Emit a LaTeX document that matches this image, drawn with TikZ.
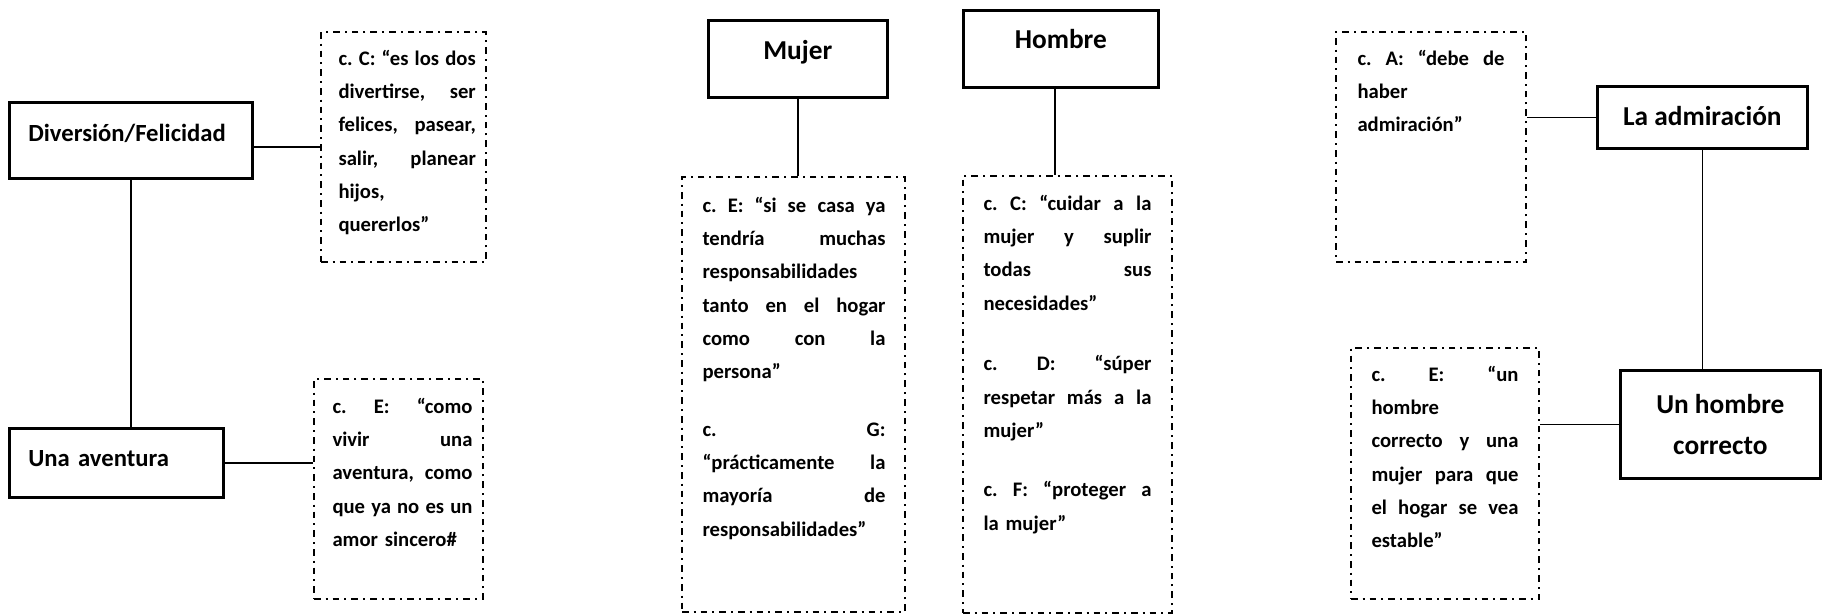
\documentclass[tikz,border=0pt]{standalone}
\usepackage{fontspec}
\setmainfont{Carlito}
\usepackage{tikz}
\usetikzlibrary{fit}
\tikzset{every picture/.style={line width=0.75pt}}
\tikzset{
  titlebox/.style={draw, line width=2pt, anchor=north west, inner ysep=0pt, inner xsep=0pt, font=\fontsize{18.5}{24}\selectfont\bfseries},
  bigtitle/.style={font=\fontsize{20.5}{30.75}\selectfont\bfseries},
  notebox/.style={draw, line width=1.4pt, dash pattern=on 5pt off 3.75pt on 1.5pt off 3.75pt, inner sep=0pt},
  notetext/.style={anchor=base west, inner sep=0pt, font=\fontsize{15.5}{25}\selectfont\bfseries\frenchspacing},
  joinline/.style={line width=1.1pt}
}
% one justified line of a quote
\newcommand{\fl}[1]{\leavevmode\hbox to \hsize{\spaceskip=.226em plus 1fil minus .06em\relax #1}}

\begin{document}
\begin{tikzpicture}[x=0.75pt,y=0.75pt,yscale=-1,xscale=1]
\useasboundingbox (0,0) rectangle (1845,615);

% Title boxes
\node[titlebox, text width=153.75pt, inner xsep=14.25pt, text height=29.25pt, text depth=27.75pt] (div) at (8,101) {Diversión/Felicidad};
\node[titlebox, text width=132pt, inner xsep=14.25pt, text height=28.5pt, text depth=23.25pt] (ave) at (8,427) {Una aventura};
\node[titlebox, bigtitle, minimum width=134.25pt, text height=29.25pt, text depth=28.5pt] (muj) at (707,19) {Mujer};
\node[titlebox, bigtitle, minimum width=146.25pt, text height=28.5pt, text depth=29.25pt] (hom) at (962,9) {Hombre};
\node[titlebox, bigtitle, minimum width=157.5pt, text height=29.25pt, text depth=17.25pt] (adm) at (1596,85) {La admiración};
\node[titlebox, bigtitle, align=center, minimum width=150pt, minimum height=81pt] (cor) at (1619,369) {Un hombre\\correcto};

% Dashed boxes
\node[notebox, fit={(321,32) (486,262)}] (nC) {};
\node[notebox, fit={(314,379) (483,599)}] (nE) {};
\node[notebox, fit={(682,177) (905,612)}] (nMuj) {};
\node[notebox, fit={(963,176) (1172,613)}] (nHom) {};
\node[notebox, fit={(1336,32) (1526,262)}] (nA) {};
\node[notebox, fit={(1351,348) (1539,599)}] (nE2) {};

% Text Node
\node[notetext, text width=103pt] (tC) at (338,65) {\fl{c. C: “es los dos}\\\fl{divertirse, ser}\\\fl{felices, pasear,}\\\fl{salir, planear}\\hijos,\\quererlos”};
% Text Node
\node[notetext, text width=105pt] (tE) at (332,413) {\fl{c. E: “como}\\\fl{vivir una}\\\fl{aventura, como}\\\fl{que ya no es un}\\amor sincero\#};
% Text Node
\node[notetext, text width=137.25pt] (tMuj) at (702,212) {\fl{c. E: “si se casa ya}\\\fl{tendría muchas}\\responsabilidades\\\fl{tanto en el hogar}\\\fl{como con la}\\persona”\\[18pt]\fl{c. G:}\\\fl{“prácticamente la}\\\fl{mayoría de}\\responsabilidades”};
% Text Node
\node[notetext, text width=126pt] (tHom) at (983,210) {\fl{c. C: “cuidar a la}\\\fl{mujer y suplir}\\\fl{todas sus}\\necesidades”\\[20.5pt]\fl{c. D: “súper}\\\fl{respetar más a la}\\mujer”\\[19.5pt]\fl{c. F: “proteger a}\\la mujer”};
% Text Node
\node[notetext, text width=110.25pt] (tA) at (1357,65) {\fl{c. A: “debe de}\\haber\\admiración”};
% Text Node
\node[notetext, text width=110.25pt] (tE2) at (1371,381) {\fl{c. E: “un}\\hombre\\\fl{correcto y una}\\\fl{mujer para que}\\\fl{el hogar se vea}\\estable”};

%Straight Lines
\coordinate (hs) at ([xshift=-4.5pt]hom.south);
\draw[joinline] (div.east |- nC.west) -- (nC.west);
\draw[joinline] (div.south) -- (div.south |- ave.north);
\draw[joinline] (ave.east) -- (ave.east -| nE.west);
\draw[joinline] (muj.south) -- (muj.south |- nMuj.north);
\draw[joinline] (hs) -- (hs |- nHom.north);
\draw[joinline] (adm.west) -- (adm.west -| nA.east);
\draw[joinline] (adm.south) -- (adm.south |- cor.north);
\draw[joinline] (cor.west) -- (cor.west -| nE2.east);
\end{tikzpicture}
\end{document}
